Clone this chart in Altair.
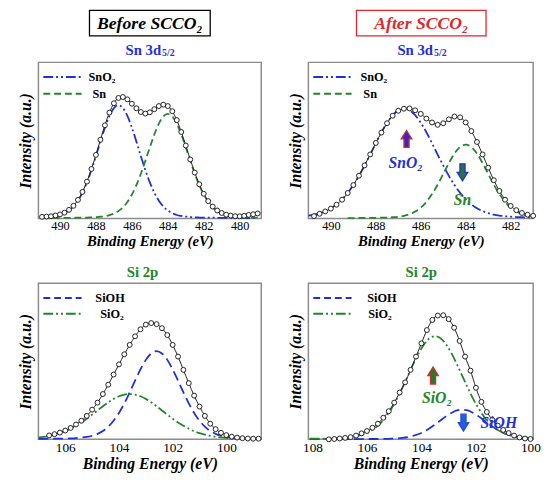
import altair as alt
import pandas as pd

FONT = "Liberation Serif"
BLUE = "#1f2fe0"
GREEN = "#22862a"
RED = "#e3262b"

# ---------------- Sn 3d5/2 : before ----------------
P1_E = [491.0, 490.75, 490.5, 490.25, 490.0, 489.75, 489.5, 489.25, 489.0, 488.75,
        488.5, 488.25, 488.0, 487.75, 487.5, 487.25, 487.0, 486.75, 486.5, 486.25,
        486.0, 485.75, 485.5, 485.25, 485.0, 484.75, 484.5, 484.25, 484.0, 483.75,
        483.5, 483.25, 483.0, 482.75, 482.5, 482.25, 482.0, 481.75, 481.5, 481.25,
        481.0, 480.75, 480.5, 480.25, 480.0, 479.75, 479.5, 479.25, 479.0]
P1_SNO2 = [0.007, 0.009, 0.012, 0.016, 0.022, 0.034, 0.051, 0.077, 0.114, 0.165,
           0.231, 0.310, 0.399, 0.493, 0.582, 0.657, 0.707, 0.725, 0.707, 0.657,
           0.582, 0.493, 0.399, 0.310, 0.231, 0.165, 0.114, 0.077, 0.051, 0.034,
           0.022, 0.016, 0.012, 0.009, 0.007, 0.006, 0.005, 0.005, 0.005, 0.004,
           0.004, 0.004, 0.003, 0.003, 0.003, 0.003, 0.002, 0.002, 0.002]
P1_SN = [0.002, 0.003, 0.003, 0.003, 0.003, 0.004, 0.004, 0.004, 0.005, 0.005,
         0.006, 0.007, 0.008, 0.011, 0.014, 0.021, 0.031, 0.047, 0.071, 0.106,
         0.153, 0.213, 0.286, 0.369, 0.456, 0.538, 0.607, 0.654, 0.670, 0.654,
         0.607, 0.538, 0.456, 0.369, 0.286, 0.213, 0.153, 0.106, 0.071, 0.047,
         0.031, 0.021, 0.014, 0.011, 0.008, 0.007, 0.006, 0.005, 0.005]
P1_DATA = [0.010, 0.012, 0.014, 0.019, 0.026, 0.037, 0.055, 0.081, 0.119, 0.170,
           0.236, 0.317, 0.407, 0.504, 0.597, 0.678, 0.738, 0.772, 0.778, 0.763,
           0.735, 0.706, 0.682, 0.672, 0.680, 0.700, 0.720, 0.729, 0.720, 0.687,
           0.630, 0.554, 0.467, 0.378, 0.294, 0.219, 0.158, 0.111, 0.076, 0.051,
           0.035, 0.024, 0.018, 0.014, 0.014, 0.017, 0.023, 0.027, 0.032]
P1_TICKS = [490, 488, 486, 484, 482, 480]

# ---------------- Sn 3d5/2 : after ----------------
P2_E = [491.0, 490.75, 490.5, 490.25, 490.0, 489.75, 489.5, 489.25, 489.0, 488.75,
        488.5, 488.25, 488.0, 487.75, 487.5, 487.25, 487.0, 486.75, 486.5, 486.25,
        486.0, 485.75, 485.5, 485.25, 485.0, 484.75, 484.5, 484.25, 484.0, 483.75,
        483.5, 483.25, 483.0, 482.75, 482.5, 482.25, 482.0, 481.75, 481.5, 481.25,
        481.0]
P2_SNO2 = [0.018, 0.024, 0.034, 0.047, 0.065, 0.090, 0.123, 0.164, 0.214, 0.273,
           0.339, 0.409, 0.482, 0.552, 0.613, 0.662, 0.694, 0.705, 0.694, 0.662,
           0.613, 0.552, 0.482, 0.409, 0.339, 0.273, 0.214, 0.164, 0.123, 0.090,
           0.065, 0.047, 0.034, 0.024, 0.018, 0.014, 0.011, 0.009, 0.008, 0.007,
           0.006]
P2_SN = [None, None, None, None, None, None, None, 0.002, 0.002, 0.003,
         0.003, 0.004, 0.004, 0.005, 0.006, 0.008, 0.011, 0.017, 0.027, 0.044,
         0.069, 0.106, 0.156, 0.216, 0.285, 0.355, 0.416, 0.458, 0.473, 0.458,
         0.416, 0.355, 0.285, 0.216, 0.156, 0.106, 0.069, 0.044, 0.027, 0.017,
         0.011]
P2_DATA = [None, 0.015, 0.030, 0.045, 0.063, 0.088, 0.120, 0.163, 0.214, 0.274,
           0.340, 0.410, 0.484, 0.550, 0.610, 0.658, 0.690, 0.703, 0.705, 0.693,
           0.670, 0.640, 0.615, 0.600, 0.610, 0.635, 0.653, 0.648, 0.615, 0.560,
           0.490, 0.410, 0.325, 0.245, 0.176, 0.120, 0.080, 0.053, 0.035, 0.024,
           0.017]
P2_TICKS = [490, 488, 486, 484, 482]

# ---------------- Si 2p : before ----------------
P3_E = [107.0, 106.8, 106.6, 106.4, 106.2, 106.0, 105.8, 105.6, 105.4, 105.2,
        105.0, 104.8, 104.6, 104.4, 104.2, 104.0, 103.8, 103.6, 103.4, 103.2,
        103.0, 102.8, 102.6, 102.4, 102.2, 102.0, 101.8, 101.6, 101.4, 101.2,
        101.0, 100.8, 100.6, 100.4, 100.2, 100.0, 99.8, 99.6, 99.4, 99.2,
        99.0, 98.8]
P3_SIOH = [0.003, 0.003, 0.004, 0.004, 0.004, 0.005, 0.006, 0.008, 0.011, 0.015,
           0.023, 0.035, 0.053, 0.081, 0.119, 0.169, 0.230, 0.301, 0.376, 0.448,
           0.509, 0.550, 0.565, 0.550, 0.509, 0.448, 0.376, 0.301, 0.230, 0.169,
           0.119, 0.081, 0.053, 0.035, 0.023, 0.015, 0.011, 0.008, 0.006, 0.005,
           0.004, 0.004]
P3_SIO2 = [0.012, 0.016, 0.022, 0.030, 0.040, 0.052, 0.068, 0.087, 0.108, 0.132,
           0.158, 0.185, 0.212, 0.237, 0.259, 0.276, 0.286, 0.290, 0.286, 0.276,
           0.259, 0.237, 0.212, 0.185, 0.158, 0.132, 0.108, 0.087, 0.068, 0.052,
           0.040, 0.030, 0.022, 0.016, 0.012, 0.009, 0.007, 0.005, 0.004, 0.004,
           0.003, 0.003]
P3_DATA = [None, None, 0.025, 0.033, 0.043, 0.056, 0.073, 0.095, 0.119, 0.150,
           0.190, 0.235, 0.290, 0.350, 0.415, 0.480, 0.545, 0.605, 0.660, 0.705,
           0.735, 0.745, 0.738, 0.712, 0.668, 0.605, 0.530, 0.445, 0.360, 0.280,
           0.210, 0.150, 0.100, 0.065, 0.042, 0.027, 0.017, 0.011, 0.007, 0.005,
           0.004, 0.004]
P3_TICKS = [106, 104, 102, 100]

# ---------------- Si 2p : after ----------------
P4_E = [108.1, 107.9, 107.7, 107.5, 107.3, 107.1, 106.9, 106.7, 106.5, 106.3,
        106.1, 105.9, 105.7, 105.5, 105.3, 105.1, 104.9, 104.7, 104.5, 104.3,
        104.1, 103.9, 103.7, 103.5, 103.3, 103.1, 102.9, 102.7, 102.5, 102.3,
        102.1, 101.9, 101.7, 101.5, 101.3, 101.1, 100.9, 100.7, 100.5, 100.3,
        100.1, 99.9]
P4_SIOH = [0.001, 0.001, 0.001, 0.001, 0.001, 0.001, 0.001, 0.001, 0.001, 0.001,
           0.001, 0.002, 0.002, 0.002, 0.003, 0.004, 0.006, 0.009, 0.014, 0.023,
           0.034, 0.050, 0.071, 0.095, 0.121, 0.147, 0.169, 0.185, 0.190, 0.185,
           0.169, 0.147, 0.121, 0.095, 0.071, 0.050, 0.034, 0.023, 0.014, 0.009,
           0.006, 0.004]
P4_SIO2 = [0.004, 0.004, 0.005, 0.005, 0.007, 0.008, 0.010, 0.012, 0.017, 0.024,
           0.035, 0.050, 0.073, 0.104, 0.145, 0.197, 0.259, 0.330, 0.406, 0.482,
           0.552, 0.609, 0.647, 0.660, 0.647, 0.609, 0.552, 0.482, 0.406, 0.330,
           0.259, 0.197, 0.145, 0.104, 0.073, 0.050, 0.035, 0.024, 0.017, 0.012,
           0.010, 0.008]
P4_CE = [107.4, 107.2, 107.0, 106.8, 106.6, 106.4, 106.2, 106.0, 105.8, 105.6,
         105.4, 105.2, 105.0, 104.8, 104.6, 104.4, 104.2, 104.0, 103.8, 103.6,
         103.4, 103.2, 103.0, 102.8, 102.6, 102.4, 102.2, 102.0, 101.8, 101.6,
         101.4, 101.2, 101.0, 100.8, 100.6, 100.4, 100.2, 100.0]
P4_DATA = [0.000, 0.002, 0.005, 0.009, 0.014, 0.024, 0.038, 0.053, 0.074, 0.100,
           0.138, 0.180, 0.235, 0.300, 0.365, 0.445, 0.530, 0.615, 0.700, 0.765,
           0.793, 0.795, 0.770, 0.715, 0.630, 0.530, 0.440, 0.330, 0.240, 0.175,
           0.125, 0.088, 0.060, 0.040, 0.024, 0.012, 0.005, 0.002]
P4_TICKS = [108, 106, 104, 102, 100]

SN_SERIES = ["SnO₂", "Sn"]
SI_SERIES = ["SiOH", "SiO₂"]
TITLES = ["Before SCCO₂", "After SCCO₂"]
SUBTITLES = ["Sn 3d", "5/2", "Si 2p"]
ANNOT = ["SnO₂", "Sn", "SiO₂", "SiOH"]

DASHDOT = [10, 3, 2, 3, 2, 3]
DASH_SN = [7, 4]
DASH_SI = [10, 5]
UP = "M -0.3 1 L -0.3 0 L -0.62 0 L 0 -1 L 0.62 0 L 0.3 0 L 0.3 1 Z"
DOWN = "M -0.3 -1 L -0.3 0 L -0.62 0 L 0 1 L 0.62 0 L 0.3 0 L 0.3 -1 Z"


def one():
    return pd.DataFrame({"k": [0]})


def txt(text, x, y, size, color="black", weight="bold", style="normal", align="center"):
    return alt.Chart(one()).mark_text(
        text=text, font=FONT, fontSize=size, fontWeight=weight, fontStyle=style,
        color=color, align=align, baseline="middle"
    ).encode(x=alt.value(x), y=alt.value(y))


def legend(items, text_x, rows):
    out = []
    for (label, color, dash), tx, ry in zip(items, text_x, rows):
        out.append(alt.Chart(one()).mark_rule(color=color, strokeDash=dash, strokeWidth=2)
                   .encode(x=alt.value(5), x2=alt.value(44), y=alt.value(ry)))
        out.append(txt(label, tx, ry, 12.5, align="left"))
    return out


def arrow(path, x, y, fill, stroke):
    return alt.Chart(one()).mark_point(
        shape=path, size=300, filled=True, fill=fill, stroke=stroke,
        strokeWidth=1.3, opacity=1
    ).encode(x=alt.value(x), y=alt.value(y))


def titlebox(text, x0, x1, color):
    rect = alt.Chart(one()).mark_rect(fill="white", stroke=color, strokeWidth=1.3).encode(
        x=alt.value(x0), x2=alt.value(x1), y=alt.value(-53), y2=alt.value(-27))
    return [rect, txt(text, (x0 + x1) / 2, -39.5, 18, color=color, style="italic")]


def panel(e, comps, ce, cv, dom, ticks, extra, width, height, lab_size, xt_size):
    xs = alt.Scale(domain=dom, reverse=True, nice=False, zero=False)
    ys = alt.Scale(domain=[0, 1], nice=False, zero=False)
    xax = alt.Axis(values=ticks, format="d", title="Binding Energy (eV)", grid=False,
                   ticks=False, domain=False, labelFont=FONT, labelFontSize=lab_size,
                   labelColor="black", labelPadding=1, labelFlush=False,
                   labelOverlap=False, labelBound=False, titleFont=FONT,
                   titleFontSize=xt_size, titleFontStyle="italic", titleFontWeight="bold",
                   titleColor="black", titlePadding=2)
    yax = alt.Axis(title="Intensity (a.u.)", labels=False, ticks=False, domain=False,
                   grid=False, titleFont=FONT, titleFontSize=16, titleFontStyle="italic",
                   titleFontWeight="bold", titleColor="black", titlePadding=5)
    X = alt.X("e:Q", scale=xs, axis=xax)
    Y = alt.Y("v:Q", scale=ys, axis=yax)
    layers = []
    for vals, color, dash in comps:
        df = pd.DataFrame({"e": e, "v": vals}).dropna()
        layers.append(alt.Chart(df).mark_line(color=color, strokeDash=dash, strokeWidth=1.8,
                                              interpolate="monotone").encode(x=X, y=Y))
    dd = pd.DataFrame({"e": ce, "v": cv}).dropna()
    layers.append(alt.Chart(dd).mark_line(color="#222222", strokeWidth=1,
                                          interpolate="monotone").encode(x=X, y=Y))
    layers.append(alt.Chart(dd).mark_circle(size=25, fill="white", stroke="#222222",
                                            strokeWidth=1, opacity=1).encode(x=X, y=Y))
    layers += extra
    return alt.layer(*layers).properties(width=width, height=height)


p1_extra = legend([(SN_SERIES[0], BLUE, DASHDOT), (SN_SERIES[1], GREEN, DASH_SN)], [51, 55], [15, 32])
p1_extra += titlebox(TITLES[0], 52, 175, "black")
p1_extra += [txt(SUBTITLES[0], 125, -13, 15, color=BLUE, align="right"),
             txt(SUBTITLES[1], 126, -9, 10, color=BLUE, align="left")]
p1 = panel(P1_E, [(P1_SNO2, BLUE, DASHDOT), (P1_SN, GREEN, DASH_SN)], P1_E, P1_DATA,
           [478.8, 491.2], P1_TICKS, p1_extra, 227, 159, 12.5, 15)

p2_extra = legend([(SN_SERIES[0], BLUE, DASHDOT), (SN_SERIES[1], GREEN, DASH_SN)], [53, 56], [15, 32])
p2_extra += titlebox(TITLES[1], 49, 181, RED)
p2_extra += [txt(SUBTITLES[0], 127, -13, 15, color=BLUE, align="right"),
             txt(SUBTITLES[1], 128, -9, 10, color=BLUE, align="left")]
p2_extra += [arrow(UP, 100, 78, "#2a2ad8", RED), txt(ANNOT[0], 99, 103, 16, color=BLUE, style="italic"),
             arrow(DOWN, 157, 112, "#237a2a", BLUE), txt(ANNOT[1], 157, 140, 16, color=GREEN, style="italic")]
p2 = panel(P2_E, [(P2_SNO2, BLUE, DASHDOT), (P2_SN, GREEN, DASH_SN)], P2_E, P2_DATA,
           [481.0, 491.0], P2_TICKS, p2_extra, 229, 159, 12.5, 15)

p3_extra = legend([(SI_SERIES[0], BLUE, DASH_SN), (SI_SERIES[1], GREEN, DASHDOT)], [58, 63], [15, 31])
p3_extra += [txt(SUBTITLES[2], 106, -11, 15, color=GREEN)]
p3 = panel(P3_E, [(P3_SIOH, BLUE, DASH_SI), (P3_SIO2, GREEN, DASHDOT)], P3_E, P3_DATA,
           [98.7, 107.0], P3_TICKS, p3_extra, 227, 159, 13.5, 16)

p4_extra = legend([(SI_SERIES[0], BLUE, DASH_SN), (SI_SERIES[1], GREEN, DASHDOT)], [60, 61], [15, 31])
p4_extra += [txt(SUBTITLES[2], 115, -11, 15, color=GREEN)]
p4_extra += [arrow(UP, 127, 94, "#237a2a", RED), txt(ANNOT[2], 131, 117, 16, color=GREEN, style="italic"),
             arrow(DOWN, 158, 142, "#2060e0", "#2a4ad8"), txt(ANNOT[3], 194, 142, 16, color=BLUE, style="italic")]
p4 = panel(P4_E, [(P4_SIOH, BLUE, DASH_SI), (P4_SIO2, GREEN, DASHDOT)], P4_CE, P4_DATA,
           [99.9, 108.15], P4_TICKS, p4_extra, 229, 159, 13.5, 16)

chart = alt.concat(p1, p2, p3, p4, columns=2, spacing={"row": 66, "column": 48},
                   bounds="flush").properties(
    padding={"left": 9, "top": -4, "right": 0, "bottom": 0}
).configure_view(stroke="#8c8c8c", strokeWidth=1.5)

chart.save("out.html", embed_options={"renderer": "svg", "actions": False})
